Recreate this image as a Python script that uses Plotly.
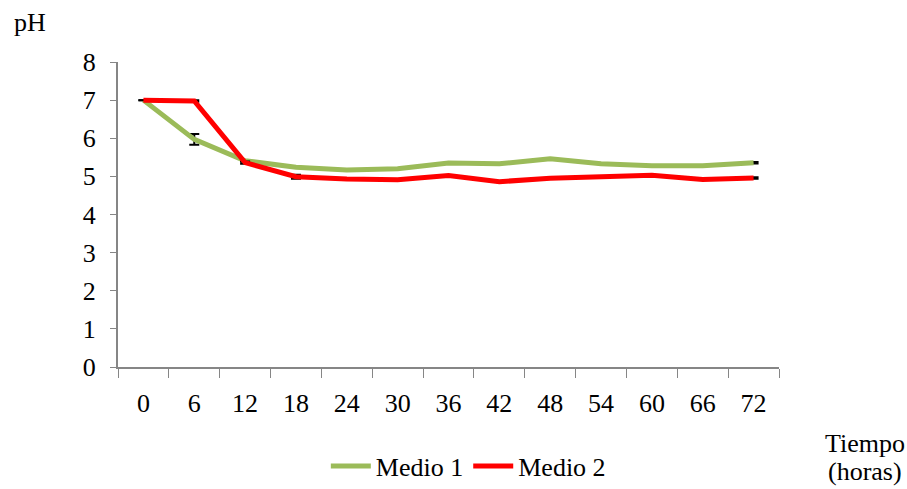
import plotly.graph_objects as go

tiempo = ["0", "6", "12", "18", "24", "30", "36", "42", "48", "54", "60", "66", "72"]
medio1 = [7.0, 5.97, 5.41, 5.24, 5.17, 5.2, 5.35, 5.33, 5.46, 5.33, 5.28, 5.28, 5.36]
medio2 = [7.0, 6.98, 5.36, 4.99, 4.93, 4.91, 5.02, 4.86, 4.95, 4.99, 5.03, 4.92, 4.96]
err1 = [None, 0.14, 0.02, 0.02, 0.0, 0.0, 0.0, 0.0, 0.0, 0.0, 0.0, 0.0, 0.02]
err2 = [None, 0.02, 0.03, 0.05, 0.0, 0.0, 0.0, 0.0, 0.0, 0.0, 0.0, 0.0, 0.02]

font = dict(family="Liberation Serif", size=26, color="black")

fig = go.Figure()
fig.add_trace(go.Scatter(
    x=tiempo, y=medio1, name="Medio 1", mode="lines",
    line=dict(color="#9BBB59", width=5),
    error_y=dict(type="data", array=err1, color="black", thickness=2, width=5),
))
fig.add_trace(go.Scatter(
    x=tiempo, y=medio2, name="Medio 2", mode="lines",
    line=dict(color="#FF0000", width=5),
    error_y=dict(type="data", array=err2, color="black", thickness=2, width=5),
))

fig.update_layout(
    width=907, height=489,
    margin=dict(l=118, r=128, t=62, b=122, autoexpand=False),
    paper_bgcolor="white", plot_bgcolor="white",
    font=font,
    showlegend=True,
    legend=dict(orientation="h", x=0.530, xanchor="center", y=-0.325, yanchor="middle",
                font=font, itemwidth=40, tracegroupgap=0, bgcolor="rgba(0,0,0,0)"),
    xaxis=dict(
        type="category", range=[-0.5, 12.5], showgrid=False, zeroline=False,
        showline=True, linecolor="#868686", linewidth=2,
        ticks="outside", tickson="boundaries", ticklen=9, tickcolor="#868686", tickwidth=1,
        ticklabelstandoff=12, tickfont=font,
    ),
    yaxis=dict(
        range=[0, 8], dtick=1, showgrid=False, zeroline=False,
        showline=True, linecolor="#868686", linewidth=2,
        ticks="outside", ticklen=6, tickcolor="#868686", tickwidth=1,
        ticklabelstandoff=9, tickfont=font,
    ),
    annotations=[
        dict(text="pH", xref="paper", yref="paper", x=-0.160, y=1.131,
             xanchor="left", yanchor="middle", showarrow=False, font=font),
        dict(text="Tiempo", xref="paper", yref="paper", x=1.130, y=-0.252,
             xanchor="center", yanchor="middle", showarrow=False, font=font),
        dict(text="(horas)", xref="paper", yref="paper", x=1.130, y=-0.341,
             xanchor="center", yanchor="middle", showarrow=False, font=font),
    ],
)

fig.write_html(
    "out.html",
    config={"displayModeBar": False},
    post_script="document.body.style.margin='0';document.body.style.overflow='hidden';",
)
